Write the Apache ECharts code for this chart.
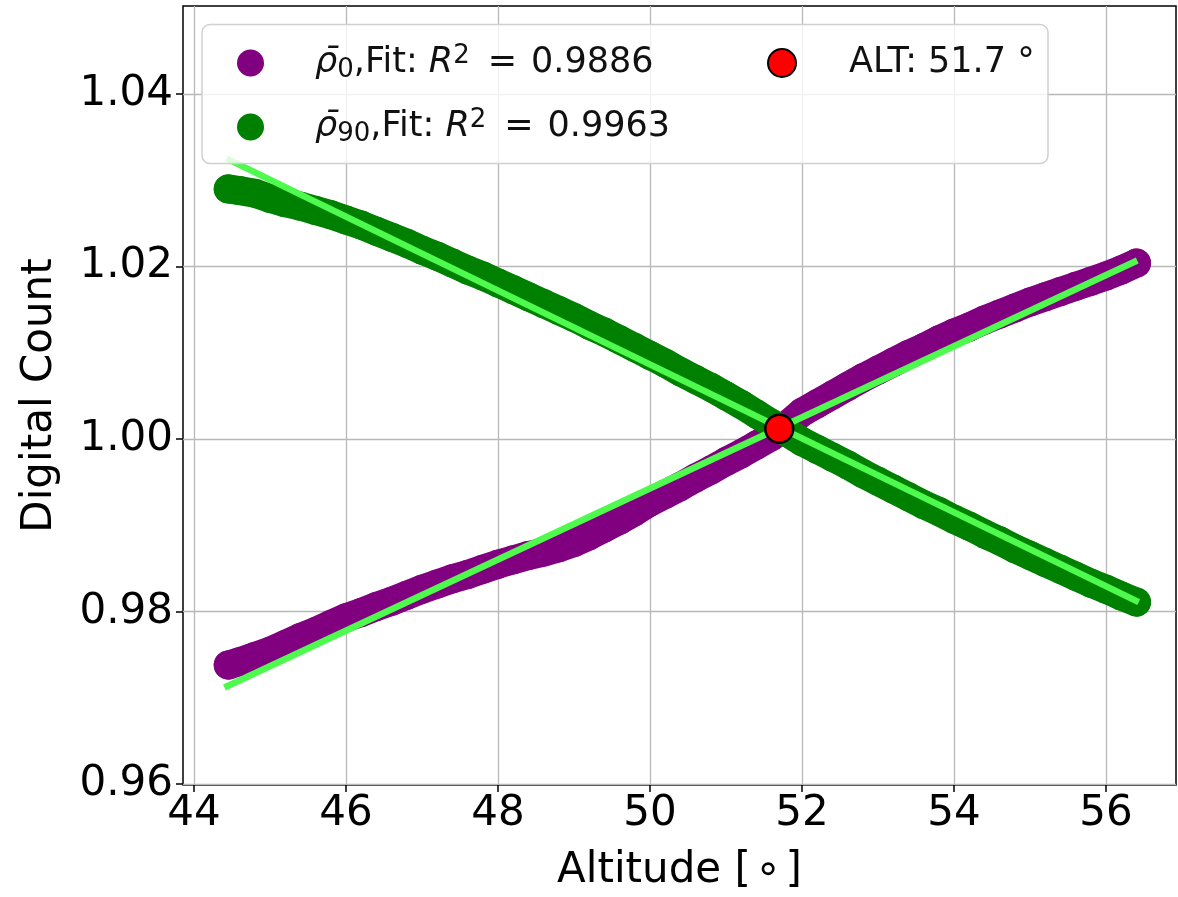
<!DOCTYPE html>
<html><head><meta charset="utf-8">
<script src="https://cdn.jsdelivr.net/npm/echarts@6/dist/echarts.min.js"></script>
<style>html,body{margin:0;padding:0;background:#fff}#c{width:1178px;height:897px}</style>
</head><body><div id="c"></div>
<script>
// Shared altitude samples (degrees)
const altitudes = [44.45,44.6,44.8,45.0,45.2,45.4,45.6,45.8,46.0,46.2,46.4,46.6,46.8,47.0,47.2,47.4,47.6,47.8,48.0,48.2,48.4,48.6,48.8,49.0,49.2,49.4,49.6,49.8,50.0,50.2,50.4,50.6,50.8,51.0,51.2,51.4,51.6,51.8,52.0,52.2,52.4,52.6,52.8,53.0,53.2,53.4,53.6,53.8,54.0,54.2,54.4,54.6,54.8,55.0,55.2,55.4,55.6,55.8,56.0,56.2,56.4];
const rho0 = [0.9738,0.9742,0.9748,0.9754,0.9762,0.9770,0.9777,0.9785,0.9793,0.9799,0.9806,0.9812,0.9819,0.9826,0.9832,0.9838,0.9843,0.9849,0.9855,0.9860,0.9865,0.9869,0.9874,0.9880,0.9888,0.9897,0.9906,0.9916,0.9927,0.9936,0.9945,0.9955,0.9964,0.9974,0.9983,0.9993,1.0003,1.0016,1.0031,1.0041,1.0051,1.0061,1.0071,1.0080,1.0089,1.0098,1.0106,1.0115,1.0123,1.0130,1.0138,1.0145,1.0152,1.0159,1.0165,1.0171,1.0177,1.0183,1.0189,1.0196,1.0204];
const rho90 = [1.0290,1.0288,1.0285,1.0279,1.0274,1.0270,1.0265,1.0260,1.0254,1.0248,1.0241,1.0234,1.0227,1.0219,1.0212,1.0204,1.0196,1.0189,1.0181,1.0173,1.0165,1.0157,1.0149,1.0141,1.0132,1.0124,1.0115,1.0106,1.0097,1.0088,1.0078,1.0069,1.0060,1.0050,1.0040,1.0029,1.0018,1.0008,0.9997,0.9988,0.9979,0.9970,0.9960,0.9951,0.9942,0.9933,0.9924,0.9916,0.9907,0.9899,0.9890,0.9882,0.9873,0.9865,0.9857,0.9849,0.9841,0.9833,0.9826,0.9818,0.9811];
// Linear fits (endpoints)
const fit0X = [44.40, 56.41];
const fit0Y = [0.9712, 1.0207];
const fit90X = [44.43, 56.43];
const fit90Y = [1.0325, 0.9811];
// Crossing point
const altPoint = [51.7, 1.0012];
// Tick labels
const xTicks = [44, 46, 48, 50, 52, 54, 56];
const yTicks = [0.96, 0.98, 1.00, 1.02, 1.04];
const names = ['rho0', 'rho90', 'alt'];
const subs = ['0', '90'];
const r2 = ['0.9886', '0.9963'];

const zip = (a, b) => a.map((v, i) => [v, b[i]]);
const FONT = 'DejaVu Sans';
const TXT = '#111';

const chart = echarts.init(document.getElementById('c'), null, {renderer: 'canvas'});
const legendRich = {
  gap: {width: 46},
  gap2: {width: 48},
  sp: {width: 14},
  sp2: {width: 18},
  i: {fontStyle: 'italic', fontSize: 35, fontFamily: FONT, color: TXT, lineHeight: 40},
  n: {fontSize: 35, fontFamily: FONT, color: TXT, lineHeight: 40},
  sub: {fontSize: 26, fontFamily: FONT, color: TXT, verticalAlign: 'bottom', lineHeight: 20},
  sup: {fontSize: 26, fontFamily: FONT, color: TXT, verticalAlign: 'top', lineHeight: 28}
};
const bandSeries = (name, ys, color, z) => ({
  name: name, type: 'line', data: zip(altitudes, ys), showSymbol: false, symbol: 'none',
  lineStyle: {color: color, width: 29, cap: 'round', join: 'round'}, z: z, silent: true
});
chart.setOption({
  animation: false,
  backgroundColor: '#ffffff',
  grid: {left: 183, right: 2, top: 6, bottom: 111.5, show: true, borderColor: '#000', borderWidth: 1.5, backgroundColor: 'transparent'},
  xAxis: {
    type: 'value', min: 43.855, max: 56.92, splitNumber: 6,
    name: 'Altitude [\u200a∘\u200a]', nameLocation: 'middle', nameGap: 65,
    nameTextStyle: {fontSize: 42, fontFamily: FONT, color: '#000'},
    axisLine: {show: false},
    axisTick: {show: true, length: 7, customValues: xTicks, lineStyle: {color: '#000', width: 1.5}},
    axisLabel: {customValues: xTicks, fontSize: 42, fontFamily: FONT, color: '#000', margin: 8, formatter: v => String(Math.round(v))},
    splitLine: {show: true, lineStyle: {color: '#b8b8b8', width: 1.3}}
  },
  yAxis: {
    type: 'value', min: 0.9599, max: 1.0502, splitNumber: 5,
    name: 'Digital Count', nameLocation: 'middle', nameGap: 122,
    nameTextStyle: {fontSize: 42, fontFamily: FONT, color: '#000'},
    axisLine: {show: false},
    axisTick: {show: true, length: 7, customValues: yTicks, lineStyle: {color: '#000', width: 1.5}},
    axisLabel: {customValues: yTicks, fontSize: 42, fontFamily: FONT, color: '#000', margin: 10, formatter: v => v.toFixed(2)},
    splitLine: {show: true, lineStyle: {color: '#b8b8b8', width: 1.3}}
  },
  graphic: [{
    type: 'rect', z: 50, shape: {x: 202, y: 24.5, width: 846, height: 139, r: 8},
    style: {fill: 'rgba(255,255,255,0.8)', stroke: '#d0d0d0', lineWidth: 1.5}
  }],
  legend: [{
    data: [names[0], names[1]], orient: 'vertical', left: 237, top: 43, itemGap: 24,
    itemWidth: 27, itemHeight: 27, padding: 0, z: 60, selectedMode: false,
    textStyle: {fontSize: 35, fontFamily: FONT, color: TXT, lineHeight: 40, rich: legendRich},
    formatter: function (n) {
      const k = n === names[0] ? 0 : 1;
      return '{gap| }{i|ρ̄}{sub|' + subs[k] + '}{n|,Fit: }{i|R}{sup|2}{sp2| }{n|=}{sp| }{n|' + r2[k] + '}';
    }
  }, {
    data: [names[2]], orient: 'vertical', left: 767, top: 43,
    itemWidth: 28, itemHeight: 28, padding: 0, z: 60, selectedMode: false,
    textStyle: {fontSize: 35, fontFamily: FONT, color: TXT, lineHeight: 40, rich: legendRich},
    formatter: function () { return '{gap2| }{n|ALT: ' + altPoint[0].toFixed(1) + ' °}'; }
  }],
  series: [
    bandSeries('rho0band', rho0, '#800080', 1),
    {name: names[0], type: 'scatter', data: zip(altitudes, rho0), symbol: 'circle', symbolSize: 29,
     itemStyle: {color: '#800080', opacity: 1}, z: 2},
    bandSeries('rho90band', rho90, '#008000', 3),
    {name: names[1], type: 'scatter', data: zip(altitudes, rho90), symbol: 'circle', symbolSize: 29,
     itemStyle: {color: '#008000', opacity: 1}, z: 3},
    {name: 'fit0', type: 'line', data: zip(fit0X, fit0Y), showSymbol: false, symbol: 'none',
     lineStyle: {color: '#4dfa4d', width: 6.5}, z: 4},
    {name: 'fit90', type: 'line', data: zip(fit90X, fit90Y), showSymbol: false, symbol: 'none',
     lineStyle: {color: '#4dfa4d', width: 6.5}, z: 4},
    {name: names[2], type: 'scatter', data: [altPoint], symbol: 'circle', symbolSize: 28,
     itemStyle: {color: '#ff0000', opacity: 1, borderColor: '#000', borderWidth: 2.5}, z: 5}
  ]
});
</script>
</body></html>
